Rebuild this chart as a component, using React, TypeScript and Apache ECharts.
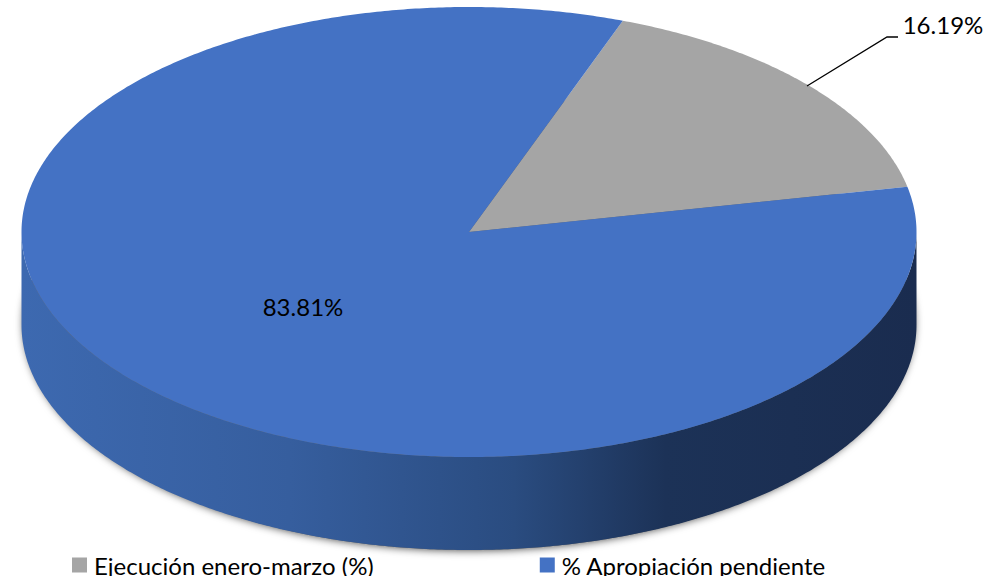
import React, { useEffect, useRef } from "react";
import * as echarts from "echarts";

const categories = ["Ejecución enero-marzo (%)", "% Apropiación pendiente"];
const shares = [16.19, 83.81];
const sliceColors = ["#A5A5A5", "#4472C4"];
const labelTexts = ["16.19%", "83.81%"];

const FONT = "Lato, Carlito, 'Noto Sans', sans-serif";
const CX = 469;
const CY = 232;
const RX = 447.5;
const RY = 225;
const DEPTH = 93;
const START_DEG = 20.1;
const LABEL_POS = [
  { x: 943, y: 24 },
  { x: 303, y: 306 },
];
const LEADER = [
  [807, 86],
  [887, 37],
  [898, 37],
];

const rimPoint = (deg: number, dy = 0): number[] => {
  const a = (deg * Math.PI) / 180;
  return [CX + RX * Math.sin(a), CY - RY * Math.cos(a) + dy];
};

const arcPoints = (from: number, to: number, dy = 0): number[][] => {
  const n = Math.max(2, Math.ceil(Math.abs(to - from) * 2));
  const pts: number[][] = [];
  for (let i = 0; i <= n; i++) pts.push(rimPoint(from + ((to - from) * i) / n, dy));
  return pts;
};

const wallGradient = {
  type: "linear",
  x: CX - RX,
  y: 0,
  x2: CX + RX,
  y2: 0,
  global: true,
  colorStops: [
    { offset: 0, color: "#3D69B0" },
    { offset: 0.3, color: "#365E9E" },
    { offset: 0.55, color: "#2A4C80" },
    { offset: 0.72, color: "#1C3257" },
    { offset: 1, color: "#1A2C4F" },
  ],
};

const makeRenderItem = (index: number) => (_params: any, api: any) => {
  const value = api.value(0);
  const before = shares.slice(0, index).reduce((a, b) => a + b, 0);
  const from = START_DEG + (before / 100) * 360;
  const to = from + (value / 100) * 360;
  const children: any[] = [];

  if (index === 0) {
    const pts = arcPoints(0, 360, 0).map((p) => [
      CX + (p[0] - CX) * 0.995,
      CY + (p[1] - CY) * 1.01 + DEPTH - 2,
    ]);
    children.push({
      type: "polygon",
      shape: { points: pts },
      style: {
        fill: "#6A6A6A",
        shadowColor: "rgba(0,0,0,0.75)",
        shadowBlur: 9,
      },
    });
  }

  const wallFrom = Math.max(from, 90);
  const wallTo = Math.min(to, 270);
  if (wallTo > wallFrom) {
    children.push({
      type: "polygon",
      shape: {
        points: [...arcPoints(wallFrom, wallTo), ...arcPoints(wallTo, wallFrom, DEPTH)],
      },
      style: { fill: wallGradient },
    });
  }

  children.push({
    type: "polygon",
    shape: { points: [[CX, CY], ...arcPoints(from, to)] },
    style: { fill: sliceColors[index] },
  });

  if (index === 0) {
    children.push({
      type: "polyline",
      shape: { points: LEADER },
      style: { stroke: "#000000", lineWidth: 1.3, fill: "none" },
    });
  }

  children.push({
    type: "text",
    x: LABEL_POS[index].x,
    y: LABEL_POS[index].y,
    style: {
      text: labelTexts[index],
      fill: "#000000",
      font: `24px ${FONT}`,
      align: "center",
      verticalAlign: "middle",
    },
  });

  return { type: "group", children };
};

export default function App() {
  const ref = useRef<HTMLDivElement>(null);
  useEffect(() => {
    const chart = echarts.init(ref.current!, null, { renderer: "svg" });
    chart.setOption({
      animation: false,
      backgroundColor: "#ffffff",
      legend: {
        left: 72,
        top: 553,
        padding: 0,
        itemGap: 166,
        itemWidth: 15,
        itemHeight: 15,
        icon: "rect",
        selectedMode: false,
        data: categories.map((name, i) => ({
          name,
          itemStyle: { color: sliceColors[i] },
        })),
        textStyle: {
          fontFamily: FONT,
          fontSize: 24,
          color: "#000000",
          padding: [0, 0, 0, 2],
        },
      },
      series: categories.map((name, i) => ({
        type: "custom",
        name,
        coordinateSystem: "none",
        silent: true,
        itemStyle: { color: sliceColors[i] },
        data: [[shares[i]]],
        renderItem: makeRenderItem(i),
      })),
    });
    return () => chart.dispose();
  }, []);
  return (
    <div
      ref={ref}
      style={{ position: "fixed", left: 0, top: 0, width: 986, height: 576 }}
    />
  );
}
